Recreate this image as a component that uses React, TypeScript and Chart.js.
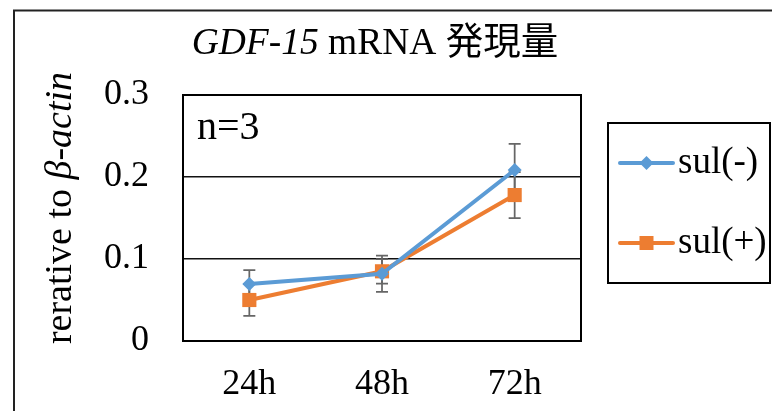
import { useEffect, useRef } from "react";
import { Chart, registerables } from "chart.js";

Chart.register(...registerables);

// Time points and measured expression (relative to β-actin), mean ± error
const categories = ["24h", "48h", "72h"];
const seriesNames = ["sul(-)", "sul(+)"];
const sulMinus = [0.0695, 0.082, 0.2085];
const sulMinusErr = [0.017, 0.022, 0.032];
const sulPlus = [0.05, 0.085, 0.178];
const sulPlusErr = [0.0195, 0.015, 0.028];
const yTicks = [0, 0.1, 0.2, 0.3];

const titleParts = [
  { text: "GDF-15", style: "italic" },
  { text: " mRNA ", style: "normal" },
  { text: "発現量", style: "cjk" },
];
const yTitleParts = [
  { text: "rerative to ", style: "normal" },
  { text: "β-actin", style: "italic" },
];
const sampleNote = "n=3";

const SERIF = "'Liberation Serif', 'Times New Roman', serif";
const CJK = "'Noto Sans CJK JP', sans-serif";
const BLUE = "#5B9BD5";
const ORANGE = "#ED7D31";
const ERR_COLOR = "#666666";

function fontFor(style: string, size: number) {
  if (style === "italic") return `italic ${size}px ${SERIF}`;
  if (style === "cjk") return `${size}px ${CJK}`;
  return `${size}px ${SERIF}`;
}

function drawParts(
  ctx: CanvasRenderingContext2D,
  parts: { text: string; style: string }[],
  size: number,
  cx: number,
  baseline: number
) {
  let total = 0;
  const widths = parts.map((p) => {
    ctx.font = fontFor(p.style, size);
    const w = ctx.measureText(p.text).width;
    total += w;
    return w;
  });
  let x = cx - total / 2;
  ctx.textAlign = "left";
  ctx.textBaseline = "alphabetic";
  parts.forEach((p, i) => {
    ctx.font = fontFor(p.style, size);
    ctx.fillText(p.text, x, baseline);
    x += widths[i];
  });
}

function drawMarker(ctx: CanvasRenderingContext2D, shape: string, x: number, y: number, color: string) {
  ctx.fillStyle = color;
  ctx.beginPath();
  if (shape === "rectRot") {
    const r = 7;
    ctx.moveTo(x - r, y);
    ctx.lineTo(x, y - r);
    ctx.lineTo(x + r, y);
    ctx.lineTo(x, y + r);
    ctx.closePath();
  } else {
    const s = 7;
    ctx.rect(x - s, y - s, 2 * s, 2 * s);
  }
  ctx.fill();
}

const decorPlugin = {
  id: "decor",
  beforeDatasetsDraw(chart: any) {
    const { ctx, chartArea } = chart;
    const yScale = chart.scales.y;
    ctx.save();
    // plot frame
    ctx.strokeStyle = "#000";
    ctx.lineWidth = 2;
    ctx.strokeRect(chartArea.left, chartArea.top, chartArea.right - chartArea.left, chartArea.bottom - chartArea.top);
    // error bars
    ctx.strokeStyle = ERR_COLOR;
    ctx.lineWidth = 1.75;
    chart.data.datasets.forEach((ds: any, di: number) => {
      const meta = chart.getDatasetMeta(di);
      meta.data.forEach((pt: any, i: number) => {
        const v = ds.data[i];
        const e = ds.errors[i];
        const x = pt.x;
        const yTop = yScale.getPixelForValue(v + e);
        const yBot = yScale.getPixelForValue(v - e);
        ctx.beginPath();
        ctx.moveTo(x, yTop);
        ctx.lineTo(x, yBot);
        ctx.moveTo(x - 6, yTop);
        ctx.lineTo(x + 6, yTop);
        ctx.moveTo(x - 6, yBot);
        ctx.lineTo(x + 6, yBot);
        ctx.stroke();
      });
    });
    ctx.restore();
  },
  afterDraw(chart: any) {
    const { ctx, chartArea } = chart;
    ctx.save();
    // outer frame
    ctx.strokeStyle = "#222";
    ctx.lineWidth = 2;
    ctx.strokeRect(14, 10.5, 900, 600);

    ctx.fillStyle = "#000";
    // title
    drawParts(ctx, titleParts, 37.5, 375, 54);

    // y-axis title (rotated)
    ctx.save();
    ctx.translate(71, 208);
    ctx.rotate(-Math.PI / 2);
    ctx.fillStyle = "#000";
    drawParts(ctx, yTitleParts, 38, 0, 0);
    ctx.restore();

    // sample size note
    ctx.fillStyle = "#000";
    ctx.font = `40px ${SERIF}`;
    ctx.textAlign = "left";
    ctx.textBaseline = "alphabetic";
    ctx.fillText(sampleNote, chartArea.left + 14, chartArea.top + 44);

    // legend box
    const bx = chartArea.right + 27;
    const by = chartArea.top + 28;
    const bw = 162;
    const bh = 160;
    ctx.strokeStyle = "#000";
    ctx.lineWidth = 2;
    ctx.strokeRect(bx, by, bw, bh);
    chart.data.datasets.forEach((ds: any, i: number) => {
      const ly = by + 40 + i * 80;
      ctx.strokeStyle = ds.borderColor;
      ctx.lineWidth = 4;
      ctx.lineCap = "round";
      ctx.beginPath();
      ctx.moveTo(bx + 12, ly);
      ctx.lineTo(bx + 65, ly);
      ctx.stroke();
      drawMarker(ctx, ds.pointStyle, bx + 38.5, ly, ds.backgroundColor);
      ctx.fillStyle = "#000";
      ctx.font = `37px ${SERIF}`;
      ctx.textAlign = "left";
      ctx.textBaseline = "middle";
      ctx.fillText(ds.label, bx + 70, ly);
    });
    ctx.restore();
  },
};

export default function App() {
  const ref = useRef<HTMLCanvasElement | null>(null);

  useEffect(() => {
    if (!ref.current) return;
    const chart = new Chart(ref.current, {
      type: "line",
      data: {
        labels: categories,
        datasets: [
          {
            label: seriesNames[0],
            data: sulMinus,
            errors: sulMinusErr,
            borderColor: BLUE,
            backgroundColor: BLUE,
            borderWidth: 4,
            pointStyle: "rectRot",
            pointRadius: 7,
            pointBorderWidth: 0,
            tension: 0,
          } as any,
          {
            label: seriesNames[1],
            data: sulPlus,
            errors: sulPlusErr,
            borderColor: ORANGE,
            backgroundColor: ORANGE,
            borderWidth: 4,
            pointStyle: "rect",
            pointRadius: 10,
            pointBorderWidth: 0,
            tension: 0,
          } as any,
        ],
      },
      options: {
        responsive: false,
        animation: false,
        layout: { padding: { top: 95, right: 191, left: 0, bottom: 0 } },
        plugins: {
          legend: { display: false },
          title: { display: false },
          tooltip: { enabled: false },
        },
        scales: {
          x: {
            offset: true,
            grid: { display: false, drawTicks: false },
            border: { display: false },
            ticks: {
              color: "#000",
              padding: 22,
              font: { family: SERIF, size: 36 },
            },
            afterFit(scale: any) {
              scale.height = 70;
            },
          },
          y: {
            min: 0,
            max: 0.3,
            grid: { color: "#111", lineWidth: 1.5, drawTicks: false },
            border: { display: false },
            afterBuildTicks(scale: any) {
              scale.ticks = yTicks.map((v) => ({ value: v }));
            },
            ticks: {
              color: "#000",
              padding: 34,
              font: { family: SERIF, size: 36 },
              callback: (v: any) => (Number(v) === 0 ? "0" : Number(v).toFixed(1)),
            },
            afterFit(scale: any) {
              scale.width = 183;
            },
          },
        },
      },
      plugins: [decorPlugin],
    });
    return () => chart.destroy();
  }, []);

  return (
    <div style={{ position: "fixed", left: 0, top: 0, width: 772, height: 411, background: "#fff" }}>
      <canvas ref={ref} width={772} height={411} style={{ display: "block" }} />
    </div>
  );
}
